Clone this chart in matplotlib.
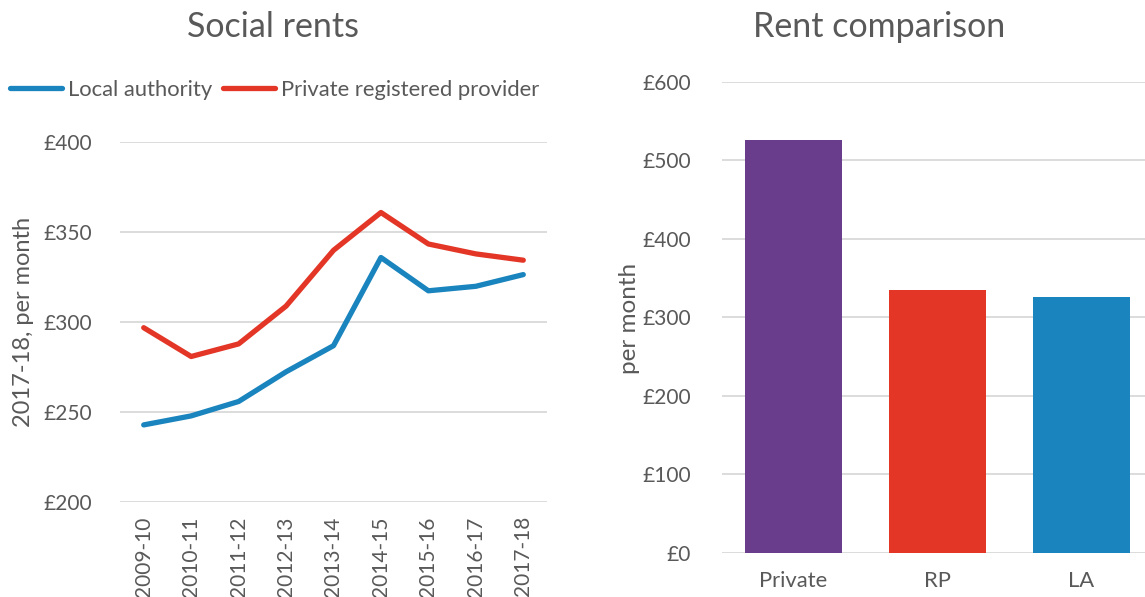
import numpy as np
from matplotlib import pyplot as plt

plt.rcParams['font.family'] = ['Lato', 'DejaVu Sans']

# data
years = ["2009-10", "2010-11", "2011-12", "2012-13", "2013-14",
         "2014-15", "2015-16", "2016-17", "2017-18"]
la_rent = [243, 248, 256, 272.5, 287, 336, 317.5, 320, 326.5]
rp_rent = [297, 281, 288, 309, 340, 361, 343.5, 338, 334.5]

bar_cats = ["Private", "RP", "LA"]
bar_vals = [526, 334.5, 325.5]

BLUE = "#1984bd"
RED = "#e33626"
PURPLE = "#693c8c"
TXT = "#595959"
GRID = "#d9d9d9"

W, H = 1145, 597
fig = plt.figure(figsize=(W / 100, H / 100), dpi=100)

def px_axes(x0, x1, ytop, ybot):
    return fig.add_axes([x0 / W, 1 - ybot / H, (x1 - x0) / W, (ybot - ytop) / H])

# left panel: line chart
ax1 = px_axes(120, 547, 142.3, 502.3)
x = np.arange(len(years))
ax1.plot(x, la_rent, color=BLUE, lw=3.8, solid_capstyle="round", label="Local authority")
ax1.plot(x, rp_rent, color=RED, lw=3.8, solid_capstyle="round", label="Private registered provider")
ax1.set_xlim(-0.5, len(years) - 0.5)
ax1.set_ylim(200, 400)
ax1.set_yticks([200, 250, 300, 350, 400])
ax1.set_yticklabels([f"£{v}" for v in [200, 250, 300, 350, 400]])
ax1.set_xticks(x)
ax1.set_xticklabels(years, rotation=90)
ax1.tick_params(axis="y", length=0, pad=20, labelsize=15, labelcolor=TXT)
ax1.tick_params(axis="x", length=0, pad=10, labelsize=15, labelcolor=TXT)
ax1.grid(axis="y", color=GRID, lw=1.3)
ax1.set_axisbelow(True)
for s in ax1.spines.values():
    s.set_visible(False)
ax1.set_ylabel("2017-18, per month", fontsize=17, color=TXT)
ax1.yaxis.set_label_coords((34 - 120) / 427, 0.5)

fig.legend(*ax1.get_legend_handles_labels(), loc="center left",
           bbox_to_anchor=(10 / W, 1 - 90 / H), ncol=2, frameon=False,
           fontsize=15.8, labelcolor=TXT, handlelength=2.35, handletextpad=0.28,
           columnspacing=0.5, borderaxespad=0, borderpad=0)

fig.text(273 / W, 1 - 27 / H, "Social rents", ha="center", va="center",
         fontsize=24.5, color=TXT)

# right panel: bar chart
ax2 = px_axes(721.5, 1153.5, 81.7, 553)
xb = np.arange(len(bar_cats))
ax2.bar(xb, bar_vals, width=0.675, color=[PURPLE, RED, BLUE], zorder=2)
ax2.set_xlim(-0.5, 2.5)
ax2.set_ylim(0, 600)
yt = np.arange(0, 700, 100)
ax2.set_yticks(yt)
ax2.set_yticklabels([f"£{v}" for v in yt])
ax2.set_xticks(xb)
ax2.set_xticklabels(bar_cats)
ax2.tick_params(axis="y", length=0, pad=22, labelsize=15, labelcolor=TXT)
ax2.tick_params(axis="x", length=0, pad=13, labelsize=15.8, labelcolor=TXT)
ax2.grid(axis="y", color=GRID, lw=1.3, zorder=0)
ax2.set_axisbelow(True)
for s in ax2.spines.values():
    s.set_visible(False)
ax2.set_ylabel("per month", fontsize=17.5, color=TXT)
ax2.yaxis.set_label_coords((640 - 721.5) / 432, (553 - 318) / 471.3)

fig.text(879 / W, 1 - 27 / H, "Rent comparison", ha="center", va="center",
         fontsize=24.5, color=TXT)

fig.savefig("out.png", dpi=100)
